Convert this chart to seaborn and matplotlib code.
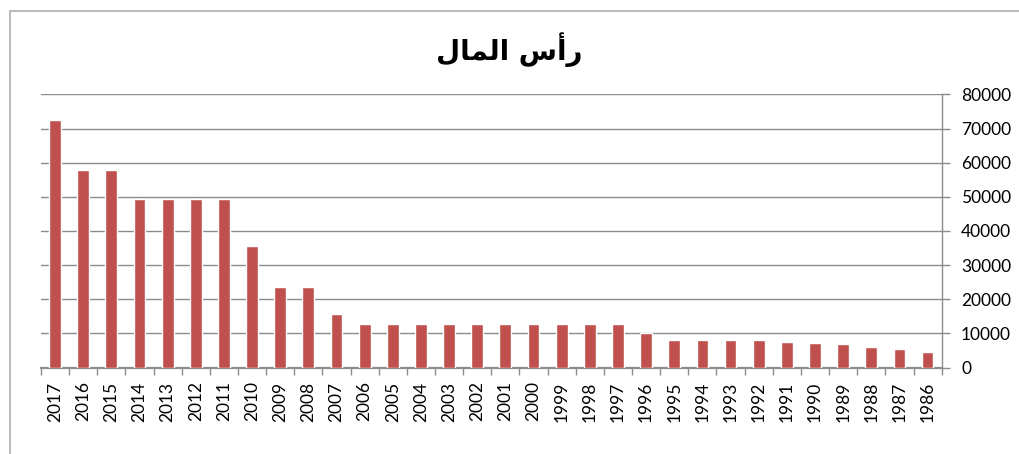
import matplotlib
matplotlib.use("Agg")
import matplotlib.pyplot as plt
import seaborn as sns
import pandas as pd
from matplotlib.patches import Rectangle
from matplotlib.ticker import MultipleLocator, FixedLocator

years = ["2017", "2016", "2015", "2014", "2013", "2012", "2011", "2010", "2009", "2008",
         "2007", "2006", "2005", "2004", "2003", "2002", "2001", "2000", "1999", "1998",
         "1997", "1996", "1995", "1994", "1993", "1992", "1991", "1990", "1989", "1988",
         "1987", "1986"]
capital = [72600, 58000, 58000, 49500, 49500, 49500, 49500, 35500, 23600, 23600,
           15700, 12700, 12700, 12700, 12700, 12700, 12700, 12700, 12700, 12700,
           12700, 10100, 8100, 8100, 8100, 8100, 7550, 7250, 7000, 6100,
           5300, 4400]
title_text = "\uFEDD\uFE8E\uFEE4\uFEDF\uFE8D \uFEB1\uFE83\uFEAD"  # رأس المال (shaped, visual order)

sns.set_style("white")
plt.rcParams['font.family'] = ['Lato', 'DejaVu Sans']
plt.rcParams['text.color'] = 'black'

df = pd.DataFrame({"year": years, "capital": capital})

fig = plt.figure(figsize=(10.19, 4.54), dpi=100)
ax = fig.add_axes([0.0402, 0.1905, 0.8839, 0.6014])

sns.barplot(data=df, x="year", y="capital", order=years, color="#C0504D",
            width=0.42, saturation=1, ax=ax, zorder=3)

ax.set_ylim(0, 80000)
ax.set_xlim(-0.5, len(years) - 0.5)
ax.yaxis.set_major_locator(MultipleLocator(10000))
ax.yaxis.tick_right()
ax.yaxis.set_label_position("right")
ax.grid(axis="y", color="#8C8C8C", linewidth=1.0, zorder=0)
ax.grid(axis="x", visible=False)
ax.set_xlabel("")
ax.set_ylabel("")

for s in ["top", "left"]:
    ax.spines[s].set_visible(False)
ax.spines["right"].set_color("#8C8C8C")
ax.spines["right"].set_linewidth(1.0)
ax.spines["bottom"].set_color("#8C8C8C")
ax.spines["bottom"].set_linewidth(1.6)

ax.tick_params(axis="y", which="major", right=True, length=6, width=1.0, color="#8C8C8C",
               pad=8, labelsize=12.5, labelcolor="black")
for lab in ax.get_yticklabels():
    lab.set_horizontalalignment("left")

ax.xaxis.set_minor_locator(FixedLocator([i - 0.5 for i in range(len(years) + 1)]))
ax.tick_params(axis="x", which="major", bottom=True, length=0, pad=10, labelsize=12.5,
               labelrotation=90, labelcolor="black")
ax.tick_params(axis="x", which="minor", bottom=True, length=5, width=1.0, color="#8C8C8C")

fig.text(0.5, 0.89, title_text, ha="center", va="center", fontsize=20, fontweight="bold",
         color="black", family=["DejaVu Sans"])

fig.patches.append(Rectangle((10 / 1019, -0.1), 1.2, 0.9758 + 0.1, transform=fig.transFigure,
                             fill=False, edgecolor="#B4B4B4", linewidth=1.3))

fig.savefig("out.png", dpi=100)
